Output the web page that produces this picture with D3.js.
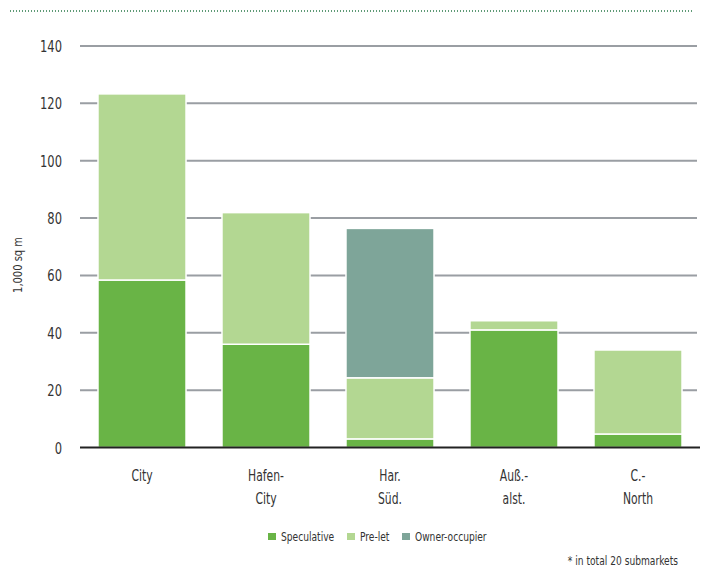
<!DOCTYPE html>
<html><head><meta charset="utf-8">
<script src="https://cdn.jsdelivr.net/npm/d3@7"></script>
<style>
body{margin:0;background:#fff;}
text{font-family:"DejaVu Sans Condensed","DejaVu Sans",sans-serif;font-stretch:condensed;fill:#333;}
</style></head>
<body><svg id="c" width="705" height="571"></svg>
<script>
const categories = [["City"],["Hafen-","City"],["Har.","Süd."],["Auß.-","alst."],["C.-","North"]];
const speculative = [58.4, 36.0, 3.0, 41.0, 4.7];
const preLet = [64.9, 45.9, 21.3, 3.2, 29.3];
const ownerOccupier = [0, 0, 52.1, 0, 0];
const seriesNames = ["Speculative","Pre-let","Owner-occupier"];
const colors = ["#69b446","#b3d792","#7ea599"];
const yTicks = [0,20,40,60,80,100,120,140];

const svg = d3.select("#c");
const x = d3.scaleBand().domain(d3.range(categories.length)).range([80,700]).paddingInner(0.29).paddingOuter(0.145);
const y = d3.scaleLinear().domain([0,140]).range([447.5,46]);

// helper for horizontally condensed text
function sq(sel, sx){ return sel.attr("transform", function(){
  const xx=+this.getAttribute("data-x"), yy=+this.getAttribute("data-y");
  return `translate(${xx},${yy}) scale(${sx},1)`; }); }

// top dotted line
svg.append("line").attr("x1",10).attr("x2",692).attr("y1",11).attr("y2",11)
  .attr("stroke","#2a7a4a").attr("stroke-width",1.5).attr("stroke-dasharray","1,2");

// grid
svg.append("g").selectAll("line").data(yTicks.filter(d=>d>0)).join("line")
  .attr("x1",80).attr("x2",697).attr("y1",d=>y(d)).attr("y2",d=>y(d))
  .attr("stroke","#9a9ea3").attr("stroke-width",2);
svg.append("g").selectAll("text").data(yTicks).join("text")
  .attr("data-x",62).attr("data-y",d=>y(d)+6).attr("text-anchor","end").attr("font-size",16).text(d=>d)
  .call(sq,0.8);

svg.append("text").attr("transform","translate(22,265) rotate(-90) scale(0.85,1)").attr("text-anchor","middle")
  .attr("font-size",13).text("1,000 sq m");

// stacks
const data = categories.map((c,i)=>({i, s:speculative[i], p:preLet[i], o:ownerOccupier[i]}));
const stack = d3.stack().keys(["s","p","o"])(data);
svg.append("g").selectAll("g").data(stack).join("g").attr("fill",(d,k)=>colors[k])
  .selectAll("rect").data(d=>d.filter(e=>e[1]-e[0]>0)).join("rect")
  .attr("x",d=>x(d.data.i)).attr("width",x.bandwidth())
  .attr("y",d=>y(d[1])).attr("height",d=>y(d[0])-y(d[1]))
  .attr("stroke","#fff").attr("stroke-width",1.5);

// baseline
svg.append("line").attr("x1",80).attr("x2",700).attr("y1",y(0)).attr("y2",y(0))
  .attr("stroke","#222").attr("stroke-width",2);

// x labels
categories.forEach((c,i)=>{
  c.forEach((t,j)=>{
    svg.append("text").attr("data-x",x(i)+x.bandwidth()/2).attr("data-y",481+j*23)
      .attr("text-anchor","middle").attr("font-size",15).text(t).call(sq,0.8);
  });
});

// legend
const lx=[268,347,402];
const lg = svg.append("g").selectAll("g").data(seriesNames).join("g")
  .attr("transform",(d,i)=>`translate(${lx[i]},533)`);
lg.append("rect").attr("width",8).attr("height",7).attr("fill",(d,i)=>colors[i]);
lg.append("text").attr("data-x",13).attr("data-y",8).attr("font-size",13).text(d=>d).call(sq,0.78);

svg.append("text").attr("data-x",678).attr("data-y",565).attr("text-anchor","end").attr("font-size",13)
  .text("* in total 20 submarkets").call(sq,0.78);
</script></body></html>
